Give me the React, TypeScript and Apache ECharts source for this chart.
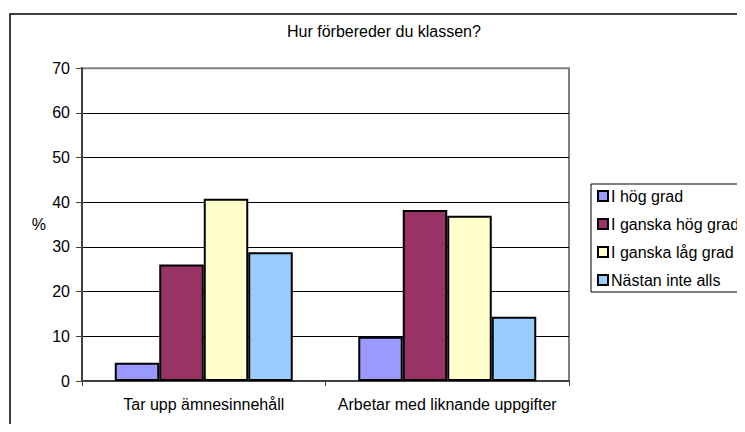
import React, { useEffect, useRef } from "react";
import * as echarts from "echarts";

const title = "Hur förbereder du klassen?";
const categories = ["Tar upp ämnesinnehåll", "Arbetar med liknande uppgifter"];
const seriesNames = ["I hög grad", "I ganska hög grad", "I ganska låg grad", "Nästan inte alls"];
const seriesColors = ["#9999FF", "#993366", "#FFFFCC", "#99CCFF"];
const hogGrad = [4.1, 9.9];
const gansakHogGrad = [26.1, 38.3];
const ganskaLagGrad = [40.8, 37.0];
const nastanInteAlls = [28.8, 14.4];
const seriesValues = [hogGrad, gansakHogGrad, ganskaLagGrad, nastanInteAlls];
const yTicks = { min: 0, max: 70, interval: 10 };
const yName = "%";

const FONT = "'Liberation Sans', Arial, sans-serif";

export default function App() {
  const ref = useRef<HTMLDivElement>(null);
  useEffect(() => {
    if (!ref.current) return;
    const chart = echarts.init(ref.current, null, { renderer: "svg" });
    chart.setOption({
      animation: false,
      backgroundColor: "#ffffff",
      textStyle: { fontFamily: FONT },
      title: {
        text: title,
        left: 287,
        top: 23,
        padding: 0,
        textStyle: { fontFamily: FONT, fontSize: 16, fontWeight: "normal", color: "#000" },
      },
      legend: {
        orient: "vertical",
        left: 597,
        top: 188,
        padding: 0,
        itemWidth: 10,
        itemHeight: 10,
        itemGap: 12,
        icon: "rect",
        textStyle: { fontFamily: FONT, fontSize: 16, color: "#000", padding: [0, 0, 0, -2] },
        data: seriesNames,
      },
      graphic: [
        {
          type: "rect",
          shape: { x: 10, y: 14, width: 800, height: 500 },
          style: { fill: "none", stroke: "#000", lineWidth: 1.5 },
          silent: true,
        },
        {
          type: "rect",
          shape: { x: 591, y: 184, width: 200, height: 108 },
          style: { fill: "none", stroke: "#000", lineWidth: 1 },
          silent: true,
        },
      ],
      grid: {
        left: 82,
        top: 68.3,
        right: 176,
        bottom: 51,
        show: true,
        borderColor: "#808080",
        borderWidth: 2,
        containLabel: false,
      },
      xAxis: {
        type: "category",
        data: categories,
        boundaryGap: true,
        axisLine: { lineStyle: { color: "#404040", width: 2 } },
        axisTick: { show: true, length: 5, lineStyle: { color: "#404040" } },
        axisLabel: { fontFamily: FONT, fontSize: 16, color: "#000", margin: 15, interval: 0 },
      },
      yAxis: {
        type: "value",
        min: yTicks.min,
        max: yTicks.max,
        interval: yTicks.interval,
        name: yName,
        nameLocation: "middle",
        nameRotate: 0,
        nameGap: 36,
        nameTextStyle: { fontFamily: FONT, fontSize: 16, color: "#000" },
        axisLine: { show: true, lineStyle: { color: "#404040", width: 2 } },
        axisTick: { show: true, length: 6, lineStyle: { color: "#404040" } },
        axisLabel: { fontFamily: FONT, fontSize: 16, color: "#000", margin: 12 },
        splitLine: {
          show: true,
          showMinLine: false,
          showMaxLine: false,
          lineStyle: { color: "#000", width: 1 },
        },
      },
      series: seriesNames.map((name, i) => ({
        name,
        type: "bar",
        data: seriesValues[i],
        barWidth: 44.5,
        barGap: "0%",
        itemStyle: { color: seriesColors[i], borderColor: "#000", borderWidth: 2 },
      })),
    });
    return () => chart.dispose();
  }, []);
  return <div ref={ref} style={{ width: 745, height: 432, margin: -8 }} />;
}
